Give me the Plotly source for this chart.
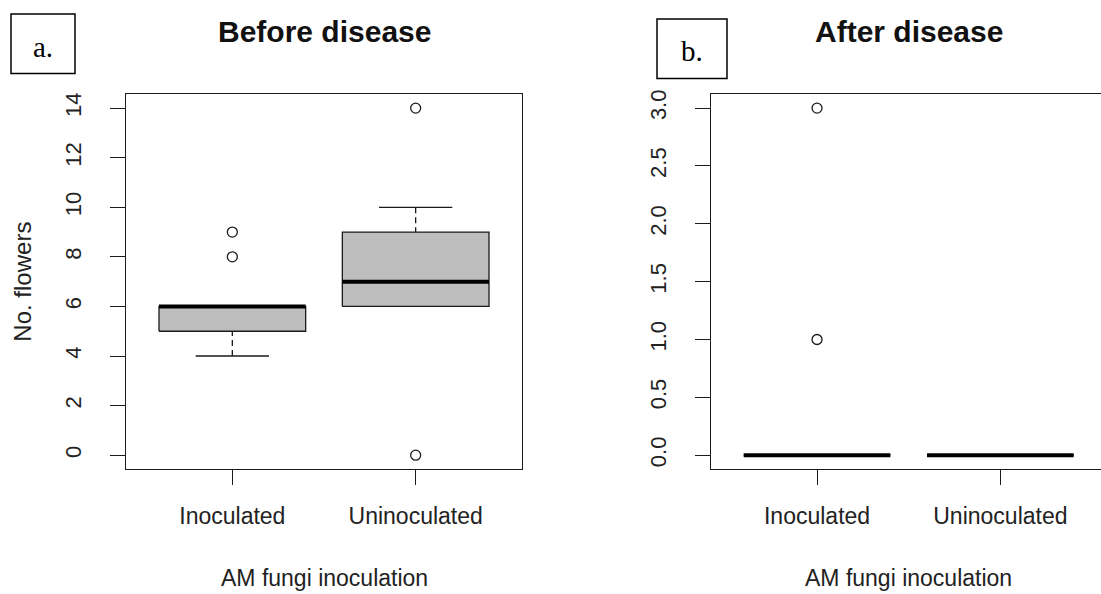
import plotly.graph_objects as go

# ---------------- data ----------------
groups = ["Inoculated", "Uninoculated"]

# Panel a: Before disease (No. flowers)
before_lower_whisker = [4, 6]
before_q1 = [5, 6]
before_median = [6, 7]
before_q3 = [6, 9]
before_upper_whisker = [6, 10]
before_outliers = [[8, 9], [14, 0]]

# Panel b: After disease
after_lower_whisker = [0, 0]
after_q1 = [0, 0]
after_median = [0, 0]
after_q3 = [0, 0]
after_upper_whisker = [0, 0]
after_outliers = [[3, 1], []]

before_ticks = [0, 2, 4, 6, 8, 10, 12, 14]
after_ticks = [0.0, 0.5, 1.0, 1.5, 2.0, 2.5, 3.0]

# ---------------- style ----------------
W, H = 1101, 594
INK = "#1a1a1a"
BOXFILL = "#bebebe"
FONT = "Liberation Sans, Arial, sans-serif"
SERIF = "Liberation Serif, Times New Roman, serif"
BOX_HALF = 0.4
STAPLE_HALF = 0.2
LW = 1.3

fig = go.Figure()


def add_boxes(xa, ya, lw, q1, med, q3, uw, outl):
    for i, g in enumerate(groups):
        x = i + 1
        # dashed whiskers
        fig.add_trace(go.Scatter(x=[x, x], y=[lw[i], q1[i]], mode="lines",
                                 line=dict(color=INK, width=LW, dash="6px,4px"),
                                 xaxis=xa, yaxis=ya, showlegend=False, hoverinfo="skip"))
        fig.add_trace(go.Scatter(x=[x, x], y=[uw[i], q3[i]], mode="lines",
                                 line=dict(color=INK, width=LW, dash="6px,4px"),
                                 xaxis=xa, yaxis=ya, showlegend=False, hoverinfo="skip"))
        # staples
        for v in (lw[i], uw[i]):
            fig.add_trace(go.Scatter(x=[x - STAPLE_HALF, x + STAPLE_HALF], y=[v, v], mode="lines",
                                     line=dict(color=INK, width=LW),
                                     xaxis=xa, yaxis=ya, showlegend=False, hoverinfo="skip"))
        # box
        fig.add_trace(go.Scatter(
            x=[x - BOX_HALF, x + BOX_HALF, x + BOX_HALF, x - BOX_HALF, x - BOX_HALF],
            y=[q1[i], q1[i], q3[i], q3[i], q1[i]],
            mode="lines", fill="toself", fillcolor=BOXFILL,
            line=dict(color=INK, width=LW),
            xaxis=xa, yaxis=ya, showlegend=False, name=g, hoverinfo="skip"))
        # median
        fig.add_trace(go.Scatter(x=[x - BOX_HALF, x + BOX_HALF], y=[med[i], med[i]], mode="lines",
                                 line=dict(color="#000000", width=4),
                                 xaxis=xa, yaxis=ya, showlegend=False, hoverinfo="skip"))
        # outliers
        if outl[i]:
            fig.add_trace(go.Scatter(x=[x] * len(outl[i]), y=outl[i], mode="markers",
                                     marker=dict(symbol="circle-open", size=10, color=INK,
                                                 line=dict(width=1.3, color=INK)),
                                     xaxis=xa, yaxis=ya, showlegend=False, name=g))


add_boxes("x", "y", before_lower_whisker, before_q1, before_median, before_q3,
          before_upper_whisker, before_outliers)
add_boxes("x2", "y2", after_lower_whisker, after_q1, after_median, after_q3,
          after_upper_whisker, after_outliers)

# ---------------- layout ----------------
px_per_unit = 396 / 2.16
left_x0 = 126
right_x0 = 710.7
y_top, y_bot = 90, 468
ydom = [(H - y_bot) / H, (H - y_top) / H]

common_x = dict(showgrid=False, zeroline=False, showline=True, linecolor=INK, linewidth=LW,
                ticks="outside", ticklen=15, tickwidth=LW, tickcolor=INK,
                tickvals=[1, 2], ticktext=groups,
                tickfont=dict(family=FONT, size=23, color="#222222"),
                ticklabelstandoff=11, fixedrange=True)
common_y = dict(showgrid=False, zeroline=False, showline=True, linecolor=INK, linewidth=LW,
                ticks="outside", ticklen=15, tickwidth=LW, tickcolor=INK,
                tickangle=-90, tickfont=dict(family=FONT, size=22, color="#222222"),
                ticklabelstandoff=20, fixedrange=True)

fig.update_layout(
    width=W, height=H,
    margin=dict(l=0, r=0, t=0, b=0),
    paper_bgcolor="white", plot_bgcolor="white",
    xaxis=dict(common_x, domain=[left_x0 / W, (left_x0 + 396) / W], range=[0.42, 2.58],
               mirror=True, anchor="y"),
    yaxis=dict(common_y, domain=ydom, range=[-0.56, 14.56], tickvals=before_ticks,
               mirror=True, anchor="x"),
    xaxis2=dict(common_x, domain=[right_x0 / W, 1.0],
                range=[0.42, 0.42 + (W - right_x0) / px_per_unit], mirror=True, anchor="y2"),
    yaxis2=dict(common_y, domain=ydom, range=[-0.12, 3.12], tickvals=after_ticks,
                tickformat=".1f", mirror=False, anchor="x2"),
)


def py(p):
    return 1 - p / H


annotations = [
    dict(text="<b>Before disease</b>", xref="x", yref="paper", x=1.5, y=py(27),
         font=dict(family=FONT, size=30, color="#111111")),
    dict(text="<b>After disease</b>", xref="x2", yref="paper", x=1.5, y=py(27),
         font=dict(family=FONT, size=30, color="#111111")),
    dict(text="AM fungi inoculation", xref="x", yref="paper", x=1.5, y=py(578),
         font=dict(family=FONT, size=23, color="#222222")),
    dict(text="AM fungi inoculation", xref="x2", yref="paper", x=1.5, y=py(578),
         font=dict(family=FONT, size=23, color="#222222")),
    dict(text="No. flowers", xref="paper", yref="paper", x=23 / W, y=py(279), textangle=-90,
         font=dict(family=FONT, size=24, color="#222222")),
    dict(text="a.", xref="paper", yref="paper", x=43 / W, y=py(42),
         font=dict(family=SERIF, size=29, color="#000000")),
    dict(text="b.", xref="paper", yref="paper", x=692 / W, y=py(46),
         font=dict(family=SERIF, size=29, color="#000000")),
]
for a in annotations:
    a.update(showarrow=False, xanchor="center", yanchor="middle")
fig.update_layout(annotations=annotations)

fig.update_layout(shapes=[
    dict(type="rect", xref="paper", yref="paper", x0=11 / W, x1=75 / W, y0=py(69), y1=py(9),
         line=dict(color="#000000", width=1.5)),
    dict(type="rect", xref="paper", yref="paper", x0=657 / W, x1=727 / W, y0=py(74), y1=py(14),
         line=dict(color="#000000", width=1.5)),
])

fig.write_html("out.html")
